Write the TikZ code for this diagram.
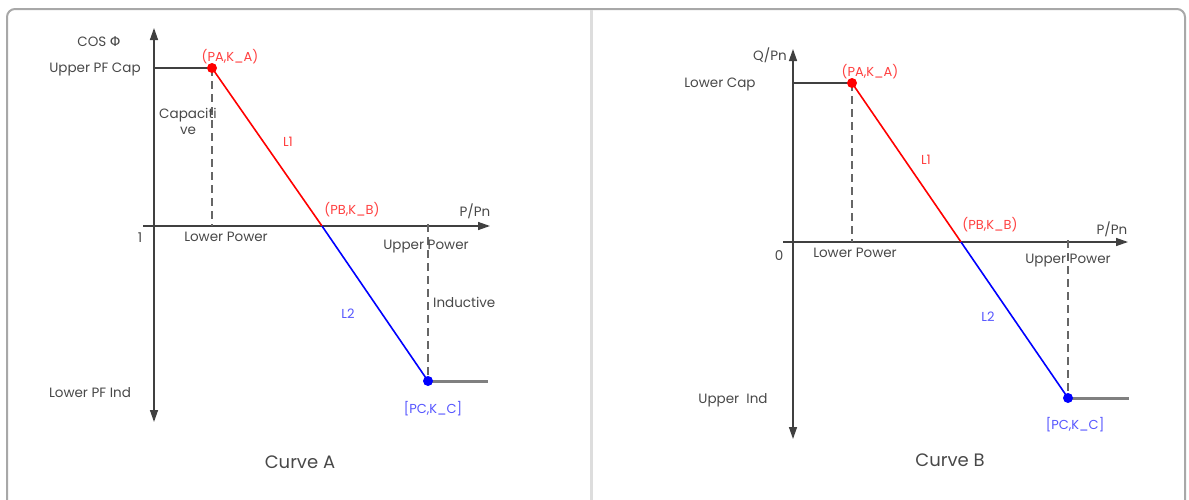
\documentclass[tikz,border=0pt]{standalone}
\usepackage{fontspec}
\setmainfont{Poppins}
\newfontfamily\grk{DejaVu Sans}
\usetikzlibrary{arrows.meta}
\definecolor{txt}{HTML}{484848}
\definecolor{axis}{HTML}{404040}
\definecolor{lred}{HTML}{FF4040}
\definecolor{lblue}{HTML}{5555FF}
\definecolor{frame}{HTML}{A8A8A8}
\definecolor{divc}{HTML}{DDDDDD}
\tikzset{
  x=1pt, y=-1pt,
  lbl/.style={text=txt, font=\fontsize{13.5}{16}\selectfont, inner sep=0pt},
  rlbl/.style={text=lred, font=\fontsize{13}{15}\selectfont, inner sep=0pt},
  blbl/.style={text=lblue, font=\fontsize{13}{15}\selectfont, inner sep=0pt},
  title/.style={text=txt, font=\fontsize{18}{20}\selectfont, inner sep=0pt},
  axisline/.style={draw=axis, line width=1.4pt},
  tip/.style={-{Triangle[length=12pt,width=8pt]}},
  dtip/.style={{Triangle[length=12pt,width=8pt]}-{Triangle[length=12pt,width=8pt]}},
  guide/.style={draw=axis!80, line width=1.3pt, dash pattern=on 8pt off 5pt},
  pt/.style={circle, minimum size=10pt, inner sep=0pt},
  seg/.style={line width=1.6pt},
  endline/.style={draw=gray, line width=3pt},
  capline/.style={draw=axis, line width=2pt},
}
\begin{document}
\begin{tikzpicture}
\useasboundingbox (0,0) rectangle (1189,499);
% frame
\draw[frame, line width=2pt, rounded corners=8pt] (7,520) -- (7,9) -- (1185,9) -- (1185,520);
\draw[divc, line width=3pt] (591,10) -- (591,520);

%%%%% Curve A
\coordinate (ayb) at (154,422);
\coordinate (ayt) at (154,28);
\coordinate (axl) at (143,226);
\coordinate (axr) at (490,226);
\coordinate (aypa) at (154,68);
\coordinate (axpa) at (212,226);
\coordinate (axpc) at (428,224);
\coordinate (aend) at (488,381);
\draw[axisline, dtip] (ayb) -- (ayt);
\draw[axisline, tip] (axl) -- (axr);
\node[pt] (apa) at (212,68) {};
\node[pt] (apb) at (322,226) {};
\node[pt] (apc) at (428,381) {};
\draw[capline] (aypa) -- (apa.center);
\draw[guide] (apa.center) -- (axpa);
\draw[guide] (axpc) -- (apc.center);
\draw[endline] (apc.center) -- (aend);
\draw[seg, red] (apa.center) -- (apb.center);
\draw[seg, blue] (apb.center) -- (apc.center);
\fill[red] (apa) circle (5pt);
\fill[blue] (apc) circle (5pt);
\node[lbl] (acos) at (99,42) {COS {\grk Φ}};
\node[lbl] (aupc) at (95,69) {Upper PF Cap};
\node[lbl] (aone) at (140,238) {1};
\node[lbl, align=center] (acap) at (188,121) {Capaciti\\ve};
\node[rlbl] (apal) at (230,57) {(PA,K\_A)};
\node[rlbl] (al1) at (288,142) {L1};
\node[rlbl] (apbl) at (352,210) {(PB,K\_B)};
\node[lbl] (apn) at (475,211) {P/Pn};
\node[lbl] (alp) at (226,237) {Lower Power};
\node[lbl] (aup) at (426,247) {Upper Power};
\node[blbl] (al2) at (348,314) {L2};
\node[lbl, anchor=west] (aind) at (433,302) {Inductive};
\node[lbl] (alpf) at (90,393) {Lower PF Ind};
\node[blbl] (apcl) at (433,409) {[PC,K\_C]};
\node[title] (acurve) at (300,462) {Curve A};

%%%%% Curve B
\coordinate (byb) at (793,439);
\coordinate (byt) at (793,49);
\coordinate (bxl) at (783,242);
\coordinate (bxr) at (1128,242);
\coordinate (bypa) at (793,83);
\coordinate (bxpa) at (852,242);
\coordinate (bxpc) at (1068,240);
\coordinate (bend) at (1129,398);
\draw[axisline, dtip] (byb) -- (byt);
\draw[axisline, tip] (bxl) -- (bxr);
\node[pt] (bpa) at (852,83) {};
\node[pt] (bpb) at (961,242) {};
\node[pt] (bpc) at (1068,398) {};
\draw[capline] (bypa) -- (bpa.center);
\draw[guide] (bpa.center) -- (bxpa);
\draw[guide] (bxpc) -- (bpc.center);
\draw[endline] (bpc.center) -- (bend);
\draw[seg, red] (bpa.center) -- (bpb.center);
\draw[seg, blue] (bpb.center) -- (bpc.center);
\fill[red] (bpa) circle (5pt);
\fill[blue] (bpc) circle (5pt);
\node[lbl] (bqpn) at (770,55) {Q/Pn};
\node[lbl] (blc) at (720,84) {Lower Cap};
\node[rlbl] (bpal) at (870,72) {(PA,K\_A)};
\node[rlbl] (bl1) at (926,160) {L1};
\node[rlbl] (bpbl) at (990,225) {(PB,K\_B)};
\node[lbl] (bpn) at (1112,229) {P/Pn};
\node[lbl] (bzero) at (779,256) {0};
\node[lbl] (blp) at (855,253) {Lower Power};
\node[lbl] (bup) at (1068,261) {Upper Power};
\node[blbl] (bl2) at (988,317) {L2};
\node[lbl] (bui) at (733,400) {Upper\ \ Ind};
\node[blbl] (bpcl) at (1075,425) {[PC,K\_C]};
\node[title] (bcurve) at (950,460) {Curve B};
\end{tikzpicture}
\end{document}
